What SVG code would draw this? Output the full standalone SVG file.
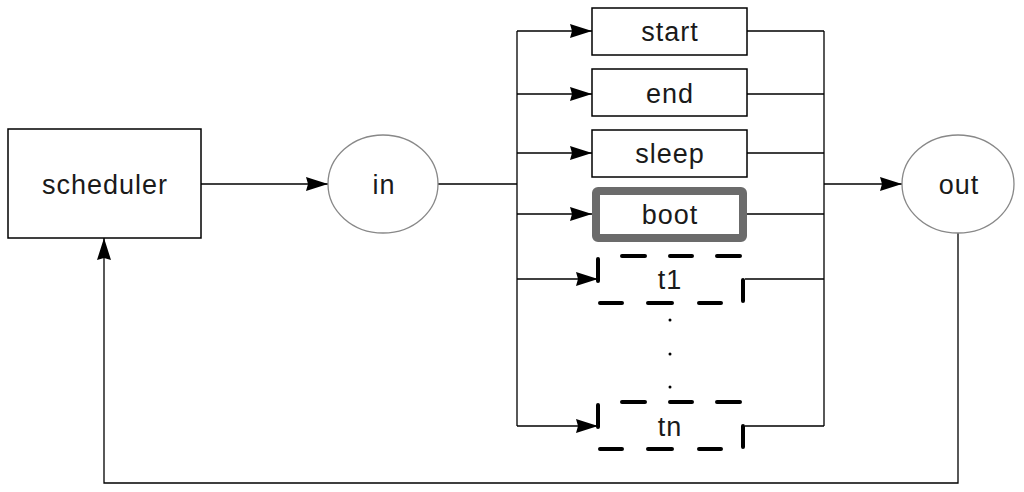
<svg xmlns="http://www.w3.org/2000/svg" width="1024" height="492" viewBox="0 0 1024 492">
<style>
.box{fill:#fff;stroke:#000;stroke-width:1.5}
.ell{fill:#fff;stroke:#888;stroke-width:1.3}
.boot{fill:#fff;stroke:#6b6b6b;stroke-width:8}
.dash{fill:none;stroke:#000;stroke-width:4;stroke-linecap:round}
.edge{fill:none;stroke:#000;stroke-width:1.3}
.arr{fill:none;stroke:#000;stroke-width:1.3;marker-end:url(#ah)}
text{font-family:"Liberation Sans",Arial,sans-serif;font-size:27px;letter-spacing:1px;fill:#1a1a1a;text-anchor:middle}
</style>
<defs>
<marker id="ah" markerUnits="userSpaceOnUse" viewBox="0 0 24 16" markerWidth="24" markerHeight="16" refX="22" refY="8" orient="auto">
<path d="M0,1 L22,8 L0,15 L2,8 z" fill="#000"/>
</marker>
</defs>
<rect width="1024" height="492" fill="#fff"/>
<g id="connectors">
<path class="arr" d="M201,184 H328"/>
<path class="edge" d="M437,184 H517 M517,31 V426"/>
<path class="arr" d="M517,31 H592"/>
<path class="arr" d="M517,94 H592"/>
<path class="arr" d="M517,153 H592"/>
<path class="arr" d="M517,214 H592"/>
<path class="arr" d="M517,279 H598"/>
<path class="arr" d="M517,426 H598"/>
<path class="edge" d="M747,31 H824 M747,94 H824 M747,153 H824 M747,214 H824 M745,279 H824 M745,426 H824 M824,31 V426"/>
<path class="arr" d="M824,184 H902"/>
<path class="arr" d="M958,233 V483 H104 V238"/>
</g>
<g id="scheduler"><rect class="box" x="8" y="129" width="193" height="109"/><text x="105" y="194">scheduler</text></g>
<g id="in"><ellipse class="ell" cx="383" cy="184" rx="55" ry="49"/><text x="384" y="194">in</text></g>
<g id="out"><ellipse class="ell" cx="958" cy="184" rx="56" ry="49"/><text x="959" y="194">out</text></g>
<g id="start"><rect class="box" x="592" y="8" width="155" height="47"/><text x="670" y="41">start</text></g>
<g id="end"><rect class="box" x="592" y="69" width="155" height="47"/><text x="670" y="103">end</text></g>
<g id="sleep"><rect class="box" x="592" y="130" width="155" height="47"/><text x="670" y="163">sleep</text></g>
<g id="boot"><rect class="boot" x="596" y="191" width="147" height="47" rx="2"/><text x="670" y="224">boot</text></g>
<g id="t1"><path class="dash" d="M622,256 H645 M670,256 H692 M717,256 H740 M743,280 V301 M721,303 H699 M672,303 H648 M622,303 H600 M598,281 V259"/><text x="670" y="289">t1</text></g>
<g id="dots"><circle cx="670" cy="320" r="1.5"/><circle cx="670" cy="354" r="1.5"/><circle cx="670" cy="387" r="1.5"/></g>
<g id="tn"><path class="dash" d="M622,402 H645 M670,402 H692 M717,402 H740 M743,426 V447 M721,449 H699 M672,449 H648 M622,449 H600 M598,427 V405"/><text x="670" y="436">tn</text></g>
</svg>
